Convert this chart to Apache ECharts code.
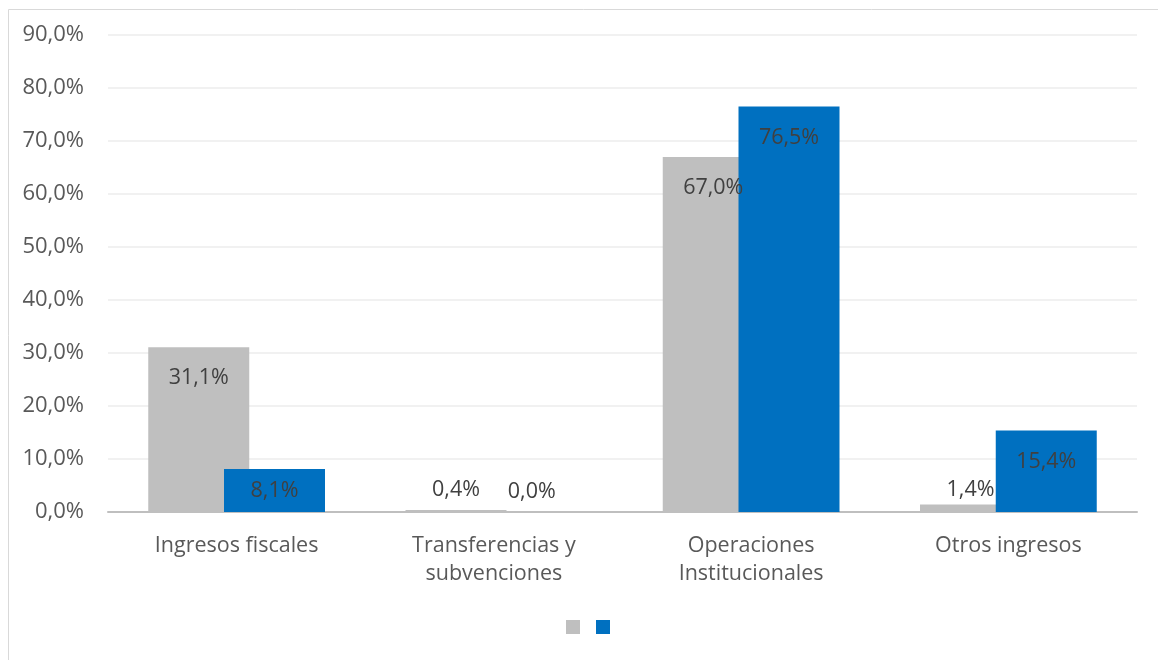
<!DOCTYPE html>
<html>
<head>
<meta charset="utf-8">
<script src="https://cdn.jsdelivr.net/npm/echarts@6/dist/echarts.min.js"></script>
<style>
html,body{margin:0;padding:0;background:#fff;}
#c{width:1158px;height:660px;}
</style>
</head>
<body>
<div id="c"></div>
<script>
var categories = ['Ingresos fiscales', 'Transferencias y\nsubvenciones', 'Operaciones\nInstitucionales', 'Otros ingresos'];
var seriesNames = ['Serie 1', 'Serie 2'];
var seriesA = [31.1, 0.4, 67.0, 1.4];
var seriesB = [8.1, 0.0, 76.5, 15.4];
var yTicks = [0, 10, 20, 30, 40, 50, 60, 70, 80, 90];

function fmt(v, d) { return v.toFixed(d).replace('.', ',') + '%'; }

function labelFor(v) {
  if (v >= 12) return { position: 'insideTop', distance: 20 };
  if (v >= 5) return { position: 'inside' };
  if (v < 1) return { position: 'top', distance: 9 };
  return { position: 'top', distance: 4 };
}
function buildData(arr) {
  return arr.map(function (v) { return { value: v, label: labelFor(v) }; });
}

var chart = echarts.init(document.getElementById('c'));
var FONT = 'Open Sans';
chart.setOption({
  animation: false,
  textStyle: { fontFamily: FONT },
  graphic: [{
    type: 'rect', left: 6, top: 7, shape: { width: 1300, height: 800 },
    style: { fill: 'none', stroke: '#d9d9d9', lineWidth: 1 }, silent: true, z: -1
  }],
  grid: { left: 108, right: 21, top: 35, bottom: 148 },
  legend: {
    data: seriesNames,
    top: 615, left: 561,
    itemWidth: 14, itemHeight: 14, itemGap: 16,
    icon: 'rect',
    formatter: function () { return ''; },
    textStyle: { fontSize: 1, padding: 0 },
    selectedMode: false
  },
  xAxis: {
    type: 'category',
    data: categories,
    axisTick: { show: false },
    axisLine: { lineStyle: { color: '#bfbfbf', width: 2 } },
    axisLabel: { color: '#595959', fontSize: 21.5, lineHeight: 28, margin: 20, interval: 0 }
  },
  yAxis: {
    type: 'value',
    min: yTicks[0], max: yTicks[yTicks.length - 1], interval: 10,
    axisLine: { show: false },
    axisTick: { show: false },
    splitLine: { lineStyle: { color: '#ededed', width: 1.5 } },
    axisLabel: { color: '#595959', fontSize: 22, margin: 24, formatter: function (v) { return fmt(v, 1); } }
  },
  series: [{
    name: seriesNames[0], type: 'bar', data: buildData(seriesA),
    barWidth: 101, barGap: '-25%',
    itemStyle: { color: '#bfbfbf' },
    label: { show: true, color: '#404040', fontSize: 21.5, formatter: function (p) { return fmt(p.value, 1); } }
  }, {
    name: seriesNames[1], type: 'bar', data: buildData(seriesB),
    barWidth: 101, barGap: '-25%',
    itemStyle: { color: '#0070c0' },
    label: { show: true, color: '#404040', fontSize: 21.5, formatter: function (p) { return fmt(p.value, 1); } }
  }]
});
</script>
</body>
</html>
